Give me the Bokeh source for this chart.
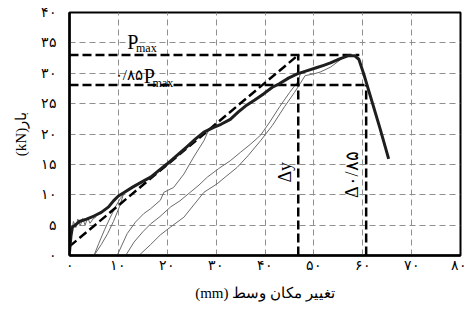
import math
from bokeh.plotting import figure
from bokeh.models import FixedTicker, Range1d
from bokeh.embed import file_html
from bokeh.resources import INLINE
from bokeh.core.properties import value

# ---------------- data ----------------
x_ticks = [0, 10, 20, 30, 40, 50, 60, 70, 80]
x_tick_labels = ["۰", "۱۰", "۲۰", "۳۰", "۴۰", "۵۰", "۶۰", "۷۰", "۸۰"]
y_ticks = [0, 5, 10, 15, 20, 25, 30, 35, 40]
y_tick_labels = ["۰", "۵", "۱۰", "۱۵", "۲۰", "۲۵", "۳۰", "۳۵", "۴۰"]

# envelope (thick)
env_x = [0, 0.3, 0.6, 1.2, 2.0, 3.5, 5.0, 6.5, 8.0, 9.0, 10.0, 11.0, 13.0, 15.0, 16.6,
         18.3, 20.0, 22.0, 24.0, 25.8, 27.5, 29.5, 31.0, 32.9, 34.5, 36.0, 37.9, 39.7,
         41.5, 43.0, 44.8, 46.6, 48.5, 50.5, 52.0, 53.4, 55.4, 57.1, 58.3, 59.2, 60.2,
         61.5, 63.5, 65.3]
env_y = [0.5, 3.2, 4.7, 5.0, 5.6, 6.0, 6.5, 7.1, 8.0, 9.0, 9.8, 10.3, 11.3, 12.2, 12.9,
         14.0, 15.1, 16.5, 17.9, 19.2, 20.3, 21.1, 21.6, 22.4, 23.6, 24.6, 25.6, 26.6,
         27.7, 28.3, 29.2, 29.9, 30.4, 30.9, 31.3, 31.7, 32.4, 32.9, 32.9, 32.3, 29.9,
         26.4, 21.0, 15.9]

# thin cyclic curves
wig_x = [0.3, 0.8, 1.3, 1.7, 2.2, 2.7, 3.2, 3.7, 4.2, 4.8, 5.5]
wig_y = [3.2, 5.6, 4.6, 6.0, 4.9, 6.1, 5.0, 6.2, 5.3, 6.0, 6.4]

c1_x = [5.0, 6.0, 7.2, 8.3, 9.4, 10.4, 11.0, 10.2, 9.0, 7.8, 6.5, 5.0]
c1_y = [0.0, 2.0, 4.3, 6.2, 8.0, 9.4, 10.0, 8.0, 5.6, 3.6, 1.8, 0.0]

c2_x = [9.75, 11.8, 13.5, 15.2, 16.6, 18.6, 19.3, 21.3, 23.4, 25.4, 27.5, 28.4]
c2_y = [0.0, 3.6, 5.5, 6.9, 7.7, 9.1, 10.4, 11.2, 13.4, 16.2, 18.9, 20.5]

c3_x = [11.5, 13.2, 15.0, 16.6, 18.5, 20.7, 22.6, 24.7, 26.5, 28.2, 30.5, 32.9, 35.0,
        37.0, 39.1, 41.0, 43.0, 45.0, 46.6, 47.3]
c3_y = [0.0, 2.2, 3.9, 5.2, 6.4, 8.0, 9.0, 10.4, 11.6, 12.9, 14.3, 15.6, 17.0, 18.3,
        19.8, 22.0, 24.5, 26.8, 28.5, 30.0]

c4_x = [14.2, 16.6, 18.6, 20.7, 23.4, 25.5, 27.5, 30.2, 32.0, 34.3, 36.5, 39.1, 41.5,
        44.0, 46.0, 47.2, 48.2, 50.0, 51.3, 53.4, 55.4, 56.8]
c4_y = [0.0, 1.8, 3.4, 4.7, 6.3, 8.4, 10.4, 11.8, 13.0, 14.5, 16.4, 18.9, 21.4, 24.5,
        26.8, 28.3, 29.6, 29.9, 30.2, 31.0, 32.2, 32.9]

# idealised reference values
p_max = 33.0
p_085 = 0.85 * p_max
delta_y = 46.8
delta_085 = 60.7
pmax_end = 59.3
bilin_x = [0, delta_y]
bilin_y = [1.5, p_max]

# ---------------- figure ----------------
SERIF = "Liberation Serif"

p = figure(width=466, height=312, output_backend="svg", toolbar_location=None,
           x_range=Range1d(0, 80), y_range=Range1d(0, 40),
           min_border_left=69, min_border_right=6, min_border_top=12, min_border_bottom=57)
p.background_fill_color = "white"
p.border_fill_color = "white"
p.outline_line_color = "black"
p.outline_line_width = 2

for ax in (p.xaxis[0], p.yaxis[0]):
    ax.axis_line_color = "black"
    ax.axis_line_width = 2.5
    ax.major_tick_line_color = None
    ax.minor_tick_line_color = None
    ax.major_tick_out = 0
    ax.major_tick_in = 0
    ax.minor_tick_out = 0
    ax.minor_tick_in = 0
    ax.major_label_text_font = SERIF
    ax.major_label_text_font_size = "14px"
    ax.major_label_text_color = "black"
    ax.axis_label_text_font = SERIF
    ax.axis_label_text_font_size = "15px"
    ax.axis_label_text_font_style = "normal"
    ax.axis_label_text_color = "black"

p.xaxis.ticker = FixedTicker(ticks=x_ticks)
p.yaxis.ticker = FixedTicker(ticks=y_ticks)
p.xaxis.major_label_overrides = {t: l for t, l in zip(x_ticks, x_tick_labels)}
p.yaxis.major_label_overrides = {t: l for t, l in zip(y_ticks, y_tick_labels)}
p.xaxis.major_label_standoff = 2
p.yaxis.major_label_standoff = 13
p.xaxis.axis_label = "(mm) تغییر مکان وسط"
p.yaxis.axis_label = "(kN)بار"
p.xaxis.axis_label_standoff = 9
p.yaxis.axis_label_standoff = 9

for g in (p.xgrid[0], p.ygrid[0]):
    g.grid_line_color = "#8f8f8f"
    g.grid_line_width = 1
    g.grid_line_dash = "6 4"
p.xgrid.ticker = FixedTicker(ticks=x_ticks)
p.ygrid.ticker = FixedTicker(ticks=y_ticks)

thin = dict(line_color="#6a6a6a", line_width=1)
p.line(wig_x, wig_y, **thin)
p.line(c1_x, c1_y, **thin)
p.line(c2_x, c2_y, **thin)
p.line(c3_x, c3_y, **thin)
p.line(c4_x, c4_y, **thin)

dash = dict(line_color="black", line_width=2.5, line_dash="9 4")
p.line([0, pmax_end], [p_max, p_max], **dash)
p.line([0, delta_085], [p_085, p_085], **dash)
p.line([delta_y, delta_y], [0, p_max], **dash)
p.line([delta_085, delta_085], [0, p_085], **dash)
p.line(bilin_x, bilin_y, **dash)

p.line(env_x, env_y, line_color="#1e1e1e", line_width=3, line_join="round")

# labels
p.text(x=[11.8], y=[p_max + 2.2], text=["P"], text_font=value(SERIF),
       text_font_size="20px", text_baseline="alphabetic", text_align="left", text_color="black")
p.text(x=[13.6], y=[p_max + 1.1], text=["max"], text_font=value(SERIF),
       text_font_size="12px", text_baseline="alphabetic", text_align="left", text_color="black")
p.text(x=[15.2], y=[p_085 + 1.5], text=["P"], text_font=value(SERIF),
       text_font_size="20px", text_baseline="alphabetic", text_align="left", text_color="black")
p.text(x=[15.0], y=[p_085 + 1.6], text=["۰/۸۵"], text_font=value(SERIF),
       text_font_size="15px", text_baseline="alphabetic", text_align="right", text_color="black")
p.text(x=[17.0], y=[p_085 + 0.4], text=["max"], text_font=value(SERIF),
       text_font_size="12px", text_baseline="alphabetic", text_align="left", text_color="black")
p.text(x=[delta_y - 2.8], y=[13.7], text=["Δy"], angle=math.pi / 2, text_font=value(SERIF),
       text_font_size="18px", text_baseline="middle", text_align="center", text_color="black")
p.text(x=[delta_085 - 3.0], y=[13.3], text=["Δ۰/۸۵"], angle=math.pi / 2, text_font=value(SERIF),
       text_font_size="18px", text_baseline="middle", text_align="center", text_color="black")

open("out.html", "w").write(file_html(p, INLINE))
